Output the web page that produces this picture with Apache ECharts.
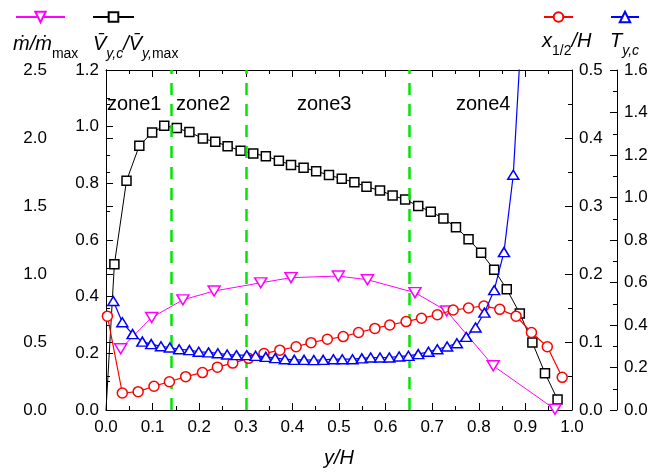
<!DOCTYPE html>
<html>
<head>
<meta charset="utf-8">
<script src="https://cdn.jsdelivr.net/npm/echarts@6/dist/echarts.min.js"></script>
<style>html,body{margin:0;padding:0;background:#fff}#c{width:654px;height:473px}</style>
</head>
<body>
<div id="c"></div>
<script>
// ---- data ----
const xTicks = [0, 0.1, 0.2, 0.3, 0.4, 0.5, 0.6, 0.7, 0.8, 0.9, 1.0];
const zoneBounds = [0.136, 0.3, 0.65];
const zoneNames = ['zone1', 'zone2', 'zone3', 'zone4'];

// m_dot / m_dot_max (left outer axis, 0-2.5)
const mX = [0.0315, 0.098, 0.165, 0.232, 0.332, 0.397, 0.4985, 0.561, 0.663, 0.731, 0.831, 0.9635];
const mY = [0.45, 0.68, 0.81, 0.875, 0.935, 0.973, 0.985, 0.958, 0.863, 0.728, 0.325, 0.005];

// V_yc / V_ymax (left inner axis, 0-1.2)
const vX = [0, 0.018, 0.044, 0.0715, 0.099, 0.125, 0.152, 0.179, 0.208, 0.2345, 0.261, 0.289, 0.316, 0.343, 0.371, 0.397, 0.424, 0.451, 0.4785, 0.506, 0.533, 0.559, 0.588, 0.615, 0.642, 0.670, 0.697, 0.724, 0.751, 0.778, 0.805, 0.833, 0.860, 0.888, 0.915, 0.942, 0.969];
const vY = [0, 0.514, 0.809, 0.933, 0.979, 1.003, 0.995, 0.981, 0.958, 0.947, 0.931, 0.915, 0.905, 0.896, 0.880, 0.865, 0.855, 0.843, 0.829, 0.816, 0.804, 0.788, 0.775, 0.757, 0.743, 0.720, 0.700, 0.676, 0.645, 0.603, 0.555, 0.495, 0.426, 0.341, 0.238, 0.130, 0.037];

// x_1/2 / H (right inner axis, 0-0.5)
const xhX = [0.003, 0.035, 0.069, 0.103, 0.136, 0.171, 0.207, 0.239, 0.272, 0.306, 0.339, 0.373, 0.408, 0.440, 0.475, 0.509, 0.542, 0.577, 0.609, 0.644, 0.677, 0.711, 0.745, 0.778, 0.811, 0.845, 0.880, 0.913, 0.947, 0.979];
const xhY = [0.138, 0.025, 0.027, 0.035, 0.0415, 0.049, 0.055, 0.063, 0.069, 0.076, 0.083, 0.088, 0.093, 0.099, 0.104, 0.108, 0.114, 0.120, 0.125, 0.130, 0.135, 0.140, 0.147, 0.150, 0.153, 0.148, 0.138, 0.114, 0.093, 0.048];

// T_y,c (right outer axis, 0-1.6)
const tX = [0.0157, 0.035, 0.057, 0.078, 0.097, 0.118, 0.137, 0.157, 0.179, 0.199, 0.220, 0.240, 0.260, 0.280, 0.302, 0.321, 0.343, 0.363, 0.384, 0.404, 0.425, 0.446, 0.466, 0.488, 0.507, 0.529, 0.549, 0.568, 0.588, 0.608, 0.629, 0.649, 0.670, 0.692, 0.711, 0.732, 0.753, 0.773, 0.793, 0.812, 0.833, 0.854, 0.874, 0.895];
const tY = [0.513, 0.413, 0.357, 0.322, 0.310, 0.300, 0.294, 0.286, 0.282, 0.274, 0.271, 0.267, 0.261, 0.258, 0.258, 0.255, 0.250, 0.244, 0.239, 0.236, 0.236, 0.235, 0.236, 0.239, 0.239, 0.239, 0.243, 0.247, 0.247, 0.247, 0.252, 0.255, 0.263, 0.274, 0.286, 0.299, 0.314, 0.344, 0.388, 0.458, 0.564, 0.743, 1.107, 1.92];

// ---- chart ----
const FONT = "'Liberation Sans', Arial, 'DejaVu Sans', sans-serif";
const pair = (xs, ys) => xs.map((x, i) => [x, ys[i]]);
const vData = pair(vX, vY).map((p, i) => i === 0 ? { value: p, symbol: 'none' } : p);
const downTri = 'path://M0,0 L12,0 L6,10 Z';

function yAxis(pos, offset, max, interval) {
  return {
    type: 'value', position: pos, offset: offset, min: 0, max: max, interval: interval,
    axisLine: { show: true, lineStyle: { color: '#000', width: 1 } },
    axisTick: { show: true, inside: true, length: 7, lineStyle: { color: '#000' } },
    minorTick: { show: true, splitNumber: 2, length: 4, lineStyle: { color: '#000' } },
    axisLabel: { color: '#000', fontSize: 17, fontFamily: FONT, margin: 7, formatter: v => v.toFixed(1) },
    splitLine: { show: false }
  };
}
const xBase = {
  type: 'value', min: 0, max: 1, interval: 0.1,
  axisLine: { show: true, onZero: false, lineStyle: { color: '#000', width: 1 } },
  axisTick: { show: true, inside: true, length: 7, lineStyle: { color: '#000' } },
  minorTick: { show: true, splitNumber: 2, length: 4, lineStyle: { color: '#000' } },
  splitLine: { show: false }
};

const rich = {
  i: { fontSize: 20, fontStyle: 'italic', fontWeight: 'normal', fontFamily: FONT, color: '#000', lineHeight: 34, verticalAlign: 'middle' },
  si: { fontSize: 14, fontStyle: 'italic', fontWeight: 'normal', fontFamily: FONT, color: '#000', lineHeight: 16, verticalAlign: 'bottom' },
  s: { fontSize: 14, fontWeight: 'normal', fontFamily: FONT, color: '#000', lineHeight: 16, verticalAlign: 'bottom' }
};
const zoneLeft = [107, 176, 297, 456];

const titles = [
  { left: 13, top: 27, text: '{i|ṁ/ṁ}{s|max}' },
  { left: 93, top: 27, text: '{i|V\u0304}{si|y,c}{i|/V\u0304}{si|y,}{s|max}' },
  { left: 542, top: 24, text: '{i|x}{s|1/2}{i|/H}' },
  { left: 610, top: 24, text: '{i|T}{si|y,c}' }
].map(t => ({ left: t.left, top: t.top, text: t.text, padding: 0, textStyle: { fontWeight: 'normal', rich: rich } }));
zoneNames.forEach((z, k) => titles.push({
  left: zoneLeft[k], top: 94, text: z, padding: 0,
  textStyle: { fontSize: 20, fontWeight: 'normal', fontFamily: FONT, color: '#000' }
}));

const legendBase = { orient: 'horizontal', padding: 0, itemGap: 0, selectedMode: false, formatter: () => '', textStyle: { fontSize: 1 } };

const option = {
  animation: false,
  backgroundColor: '#fff',
  title: titles,
  legend: [
    Object.assign({}, legendBase, { data: ['mdot'], left: 15, top: 10.5, itemWidth: 49, itemHeight: 13 }),
    Object.assign({}, legendBase, { data: ['V'], left: 92, top: 11, itemWidth: 41, itemHeight: 12 }),
    Object.assign({}, legendBase, { data: ['x12'], left: 543, top: 11, itemWidth: 29, itemHeight: 12 }),
    Object.assign({}, legendBase, { data: ['T'], left: 610, top: 10.5, itemWidth: 28, itemHeight: 13 })
  ],
  grid: { left: 106, right: 82, top: 70, bottom: 62, containLabel: false },
  xAxis: [
    Object.assign({}, xBase, {
      position: 'bottom',
      axisLabel: { color: '#000', fontSize: 17, fontFamily: FONT, margin: 9, formatter: v => v.toFixed(1) },
      name: 'y/H', nameLocation: 'middle', nameGap: 38,
      nameTextStyle: { fontSize: 20, fontStyle: 'italic', fontFamily: FONT, color: '#000' }
    }),
    Object.assign({}, xBase, { position: 'top', axisLabel: { show: false } })
  ],
  yAxis: [
    yAxis('left', 52, 2.5, 0.5),
    yAxis('left', 0, 1.2, 0.2),
    yAxis('right', 0, 0.5, 0.1),
    yAxis('right', 45, 1.6, 0.2)
  ],
  series: [
    {
      name: 'V', type: 'line', xAxisIndex: 0, yAxisIndex: 1, data: vData,
      symbol: 'rect', symbolSize: 9, showAllSymbol: true, z: 3,
      lineStyle: { color: '#000', width: 1 },
      itemStyle: { color: '#fff', borderColor: '#000', borderWidth: 1.5 },
      markLine: {
        silent: true, symbol: ['none', 'none'], label: { show: false },
        lineStyle: { color: '#00e600', type: [12, 9], width: 2.5 },
        data: zoneBounds.map(b => ({ xAxis: b }))
      }
    },
    {
      name: 'mdot', type: 'line', xAxisIndex: 0, yAxisIndex: 0, data: pair(mX, mY),
      symbol: downTri, symbolSize: [12, 10], showAllSymbol: true, z: 4,
      lineStyle: { color: '#ff00ff', width: 1 },
      itemStyle: { color: '#fff', borderColor: '#ff00ff', borderWidth: 1.5 }
    },
    {
      name: 'x12', type: 'line', xAxisIndex: 0, yAxisIndex: 2, data: pair(xhX, xhY),
      symbol: 'circle', symbolSize: 10, showAllSymbol: true, z: 5,
      lineStyle: { color: '#ff0000', width: 1.2 },
      itemStyle: { color: '#fff', borderColor: '#ff0000', borderWidth: 1.5 }
    },
    {
      name: 'T', type: 'line', xAxisIndex: 0, yAxisIndex: 3, data: pair(tX, tY),
      symbol: 'triangle', symbolSize: [11, 9], showAllSymbol: true, clip: true, z: 6,
      lineStyle: { color: '#0000ff', width: 1.2 },
      itemStyle: { color: '#fff', borderColor: '#0000ff', borderWidth: 1.5 }
    }
  ]
};
const chart = echarts.init(document.getElementById('c'), null, { renderer: 'canvas' });
chart.setOption(option);
</script>
</body>
</html>
